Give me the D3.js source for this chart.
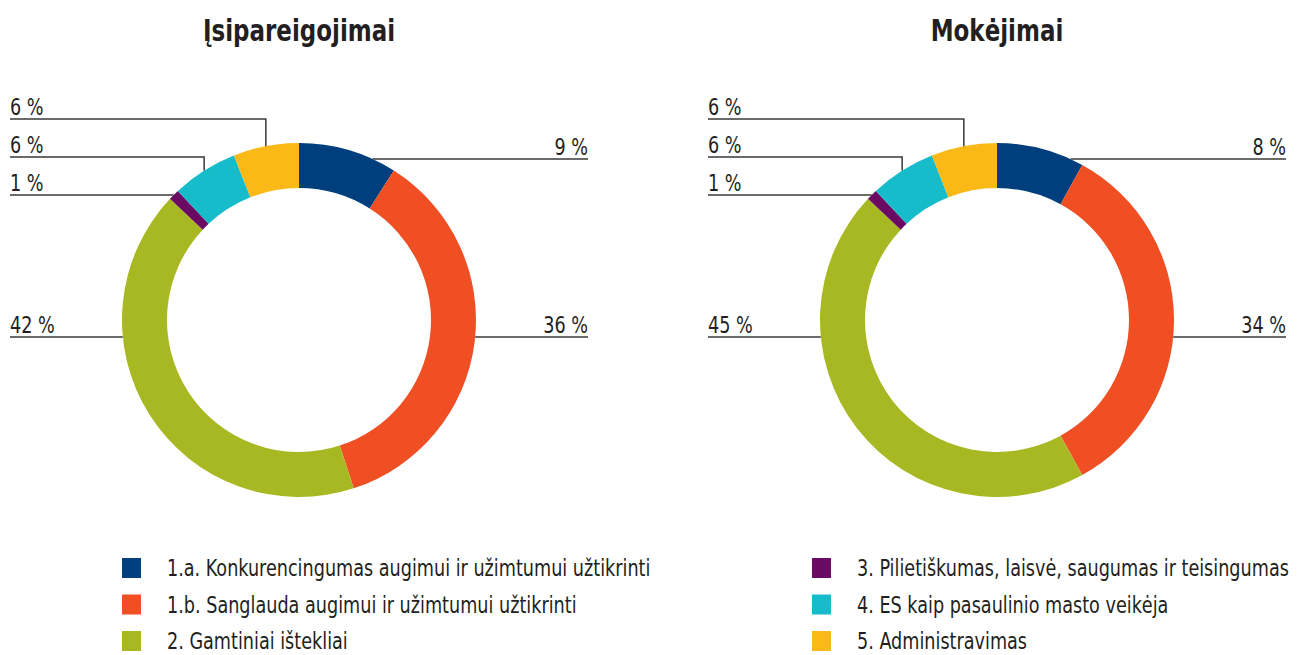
<!DOCTYPE html>
<html>
<head>
<meta charset="utf-8">
<script src="https://cdn.jsdelivr.net/npm/d3@7"></script>
<style>
  body { margin: 0; background: #fff; }
  svg text { font-family: "DejaVu Sans Condensed", "Liberation Sans Narrow", "DejaVu Sans", sans-serif; font-stretch: condensed; fill: #231f20; }
</style>
</head>
<body>
<div id="chart"></div>
<script>
const categories = [
  "1.a. Konkurencingumas augimui ir užimtumui užtikrinti",
  "1.b. Sanglauda augimui ir užimtumui užtikrinti",
  "2. Gamtiniai ištekliai",
  "3. Pilietiškumas, laisvė, saugumas ir teisingumas",
  "4. ES kaip pasaulinio masto veikėja",
  "5. Administravimas"
];
const colors = ["#003f7d", "#f04e23", "#a8b823", "#6b0a62", "#17bccb", "#fbb917"];

const titles = ["Įsipareigojimai", "Mokėjimai"];
const commitments = [9, 36, 42, 1, 6, 6];
const payments = [8, 34, 45, 1, 6, 6];

const width = 1297, height = 655;
const outerR = 177, innerR = 132;
const cy = 320;

// label placement per slice: side and height of the underline
const labelY = [159, 337, 337, 195, 157, 119];
const labelSide = ["right", "right", "left", "left", "left", "left"];
const elbow = [false, false, false, false, true, true];

const charts = [
  { title: titles[0], values: commitments, cx: 299, left: 10, right: 588 },
  { title: titles[1], values: payments, cx: 997, left: 708, right: 1286 }
];

const fontSize = 23;

const svg = d3.select("#chart")
  .append("svg")
  .attr("width", width)
  .attr("height", height);

// the original uses a condensed face; measure ours and squeeze to match
function measure(str) {
  const t = svg.append("text").attr("font-size", fontSize).text(str);
  const w = t.node().getComputedTextLength();
  t.remove();
  return w;
}
const squeeze = Math.min(1, 496 / measure(categories[0]), 432 / measure(categories[3]));

function addText(x, y, str, size, anchor, weight) {
  return svg.append("text")
    .attr("transform", `translate(${x},${y}) scale(${squeeze},1)`)
    .attr("text-anchor", anchor || "start")
    .attr("font-size", size)
    .attr("font-weight", weight || "normal")
    .text(str);
}

const pie = d3.pie().sort(null).value(d => d);
const arc = d3.arc().innerRadius(innerR).outerRadius(outerR);

charts.forEach(chart => {
  const g = svg.append("g")
    .attr("transform", `translate(${chart.cx},${cy})`);

  const arcs = pie(chart.values);

  g.selectAll("path")
    .data(arcs)
    .enter()
    .append("path")
    .attr("d", arc)
    .attr("fill", (d, i) => colors[i]);

  addText(chart.cx, 41, chart.title, 30, "middle", "bold");

  // leader lines + labels
  arcs.forEach((d, i) => {
    const ly = labelY[i];
    const dy = ly - cy;
    let pts;
    if (elbow[i]) {
      const mid = (d.startAngle + d.endAngle) / 2;
      const px = chart.cx + outerR * Math.sin(mid);
      const py = cy - outerR * Math.cos(mid);
      pts = [[chart.left, ly], [px, ly], [px, py]];
    } else {
      const dx = Math.sqrt(outerR * outerR - dy * dy);
      if (labelSide[i] === "right") {
        pts = [[chart.cx + dx, ly], [chart.right, ly]];
      } else {
        pts = [[chart.left, ly], [chart.cx - dx, ly]];
      }
    }

    svg.append("path")
      .attr("d", d3.line()(pts))
      .attr("fill", "none")
      .attr("stroke", "#3a3a3a")
      .attr("stroke-width", 1.5);

    const right = labelSide[i] === "right";
    addText(right ? chart.right : chart.left, ly - 4, chart.values[i] + " %", fontSize, right ? "end" : "start");
  });
});

// legend
const legendCols = [{ x: 122, items: [0, 1, 2] }, { x: 812, items: [3, 4, 5] }];
legendCols.forEach(col => {
  col.items.forEach((idx, row) => {
    const y = 568 + row * 36.5;
    svg.append("rect")
      .attr("x", col.x)
      .attr("y", y - 10)
      .attr("width", 19)
      .attr("height", 20)
      .attr("fill", colors[idx]);
    addText(col.x + 45, y + 8, categories[idx], fontSize);
  });
});
</script>
</body>
</html>
